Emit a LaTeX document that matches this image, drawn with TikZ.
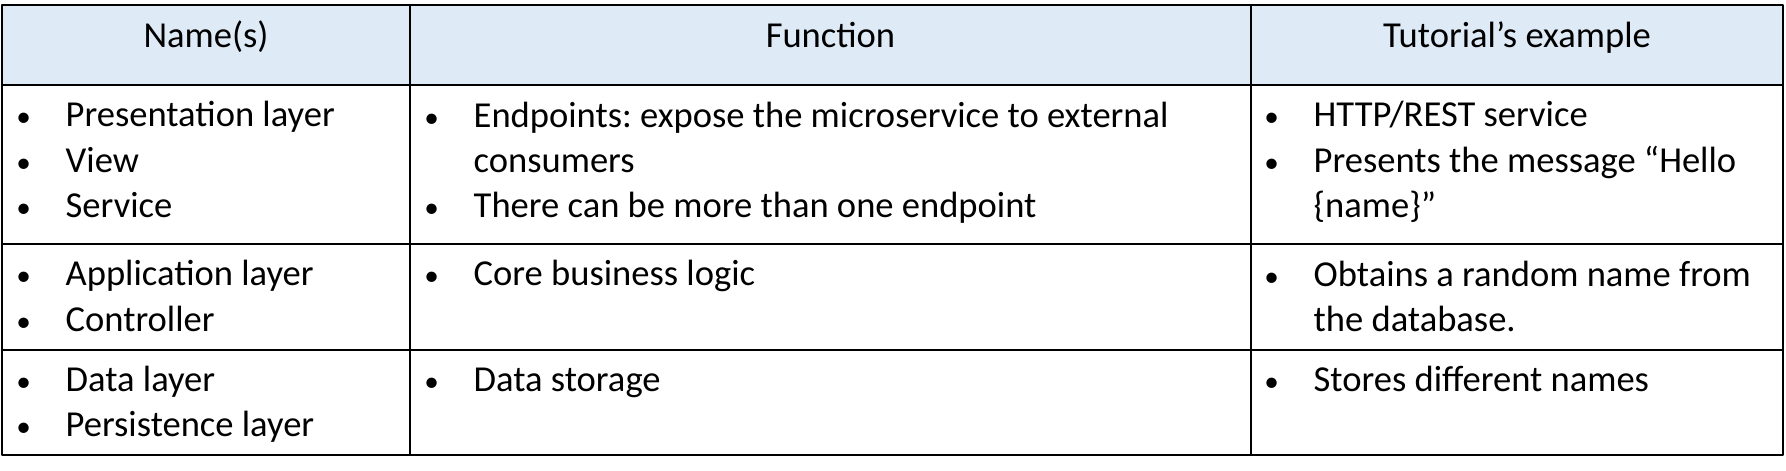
\documentclass[tikz,border=0pt]{standalone}
\usepackage{fontspec}
\setmainfont{Carlito}
\usepackage{tikz}
\usepackage{tkz-euclide}
\usetikzlibrary{calc}
\definecolor{hdr}{RGB}{222,234,246}
\newcommand{\bul}{\llap{\makebox[0.2cm][c]{\scalebox{0.8}{\textbullet}}\hspace{0.32cm}}}
\frenchspacing

\begin{document}
\begin{tikzpicture}[
    cell/.style={anchor=base west,inner sep=0pt,align=left,font=\fontsize{10.4}{12.95}\selectfont},
    head/.style={anchor=base,inner sep=0pt,font=\fontsize{10.4}{12.95}\selectfont}
  ]
                    \useasboundingbox (0,0) rectangle (17.86,-4.71);

                    \tkzDefPoint(0.02,-0.05){A}
                    \tkzDefPoint(17.83,-0.05){B}
                    \tkzDefPoint(17.83,-4.55){C}
                    \tkzDefPoint(0.02,-4.55){D}

                    \tkzDefPoint(0.02,-0.85){E}
                    \tkzDefPoint(17.83,-0.85){F}
                    \tkzDefPoint(0.02,-2.44){G}
                    \tkzDefPoint(17.83,-2.44){H}
                    \tkzDefPoint(0.02,-3.50){I}
                    \tkzDefPoint(17.83,-3.50){J}

                    \tkzDefPoint(4.10,-0.05){K}
                    \tkzDefPoint(4.10,-4.55){L}
                    \tkzDefPoint(12.51,-0.05){M}
                    \tkzDefPoint(12.51,-4.55){N}

                    \tkzFillPolygon[color=hdr](A,B,F,E)

                    \tkzDrawSegments[line width=0.7pt](E,F G,H I,J K,L M,N)
                    \tkzDrawPolygon[line width=0.8pt](A,B,C,D)

                    \node[head] (H1) at ($(A)!0.5!(K)+(0,-0.43)$) {Name(s)};
                    \node[head] (H2) at ($(K)!0.5!(M)+(0,-0.43)$) {Function};
                    \node[head] (H3) at ($(M)!0.5!(B)+(0,-0.43)$) {Tutorial’s example};

                    \node[cell] (P1) at (0.65,-1.27) {\bul Presentation layer};
                    \node[cell] (P2) at (0.65,-1.73) {\bul View};
                    \node[cell] (P3) at (0.65,-2.18) {\bul Service};
                    \node[cell] (Q1) at (0.65,-2.86) {\bul Application layer};
                    \node[cell] (Q2) at (0.65,-3.32) {\bul Controller};
                    \node[cell] (R1) at (0.65,-3.92) {\bul Data layer};
                    \node[cell] (R2) at (0.65,-4.37) {\bul Persistence layer};

                    \node[cell] (F1) at (4.73,-1.73) {\bul Endpoints: expose the microservice to external\\consumers};
                    \node[cell] (F2) at (4.73,-2.18) {\bul There can be more than one endpoint};
                    \node[cell] (F3) at (4.73,-2.86) {\bul Core business logic};
                    \node[cell] (F4) at (4.73,-3.92) {\bul Data storage};

                    \node[cell] (T1) at (13.13,-1.27) {\bul HTTP/REST service};
                    \node[cell] (T2) at (13.13,-2.18) {\bul Presents the message “Hello\\\{name\}”};
                    \node[cell] (T3) at (13.13,-3.32) {\bul Obtains a random name from\\the database.};
                    \node[cell] (T4) at (13.13,-3.92) {\bul Stores different names};
                \end{tikzpicture}
\end{document}
